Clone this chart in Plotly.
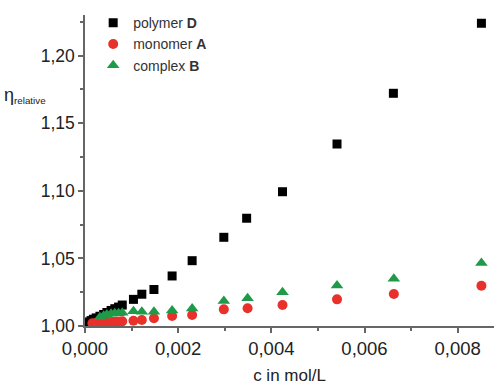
import plotly.graph_objects as go

# polymer D
c_D = [0.00003, 0.00008, 0.00013, 0.00018, 0.00024, 0.00032, 0.00040, 0.00047, 0.00056,
       0.00064, 0.00072, 0.00080, 0.00104, 0.00122, 0.00148, 0.00187, 0.00230, 0.00298,
       0.00347, 0.00424, 0.00541, 0.00662, 0.00851]
eta_D = [1.0020, 1.0030, 1.0040, 1.0050, 1.0060, 1.0072, 1.0085, 1.0100, 1.0115,
         1.0128, 1.0140, 1.0155, 1.0197, 1.0235, 1.0270, 1.0370, 1.0483, 1.0656,
         1.0797, 1.0993, 1.1346, 1.1721, 1.2239]

# monomer A
c_A = [0.00016, 0.00024, 0.00032, 0.00040, 0.00047, 0.00056, 0.00064, 0.00072, 0.00080,
       0.00104, 0.00122, 0.00148, 0.00187, 0.00230, 0.00298, 0.00349, 0.00424, 0.00541,
       0.00663, 0.00851]
eta_A = [1.0020, 1.0022, 1.0025, 1.0027, 1.0030, 1.0030, 1.0032, 1.0034, 1.0035,
         1.0039, 1.0044, 1.0057, 1.0074, 1.0081, 1.0123, 1.0131, 1.0155, 1.0197,
         1.0237, 1.0298]

# complex B
c_B = [0.00032, 0.00040, 0.00047, 0.00056, 0.00064, 0.00072, 0.00080, 0.00104, 0.00122,
       0.00148, 0.00187, 0.00230, 0.00298, 0.00349, 0.00424, 0.00541, 0.00663, 0.00851]
eta_B = [1.0065, 1.0075, 1.0085, 1.0090, 1.0095, 1.0095, 1.0098, 1.0110, 1.0106,
         1.0106, 1.0115, 1.0130, 1.0185, 1.0205, 1.0250, 1.0300, 1.0350, 1.0465]

x_ticks = [0.000, 0.002, 0.004, 0.006, 0.008]
y_ticks = [1.00, 1.05, 1.10, 1.15, 1.20]

FONT = "Liberation Sans, Arial, sans-serif"
AXIS_COLOR = "#666666"

fig = go.Figure()
fig.add_trace(go.Scatter(x=c_D, y=eta_D, mode="markers", name="polymer <b>D</b>",
                         marker=dict(symbol="square", size=9, color="#000000")))
fig.add_trace(go.Scatter(x=c_A, y=eta_A, mode="markers", name="monomer <b>A</b>",
                         marker=dict(symbol="circle", size=10, color="#e8312a")))
fig.add_trace(go.Scatter(x=c_B, y=eta_B, mode="markers", name="complex <b>B</b>",
                         marker=dict(symbol="triangle-up", size=11, color="#1e9a48")))

fig.update_layout(
    width=495, height=387,
    margin=dict(l=85, r=1, t=15, b=61),
    paper_bgcolor="white", plot_bgcolor="white",
    separators=",.",
    font=dict(family=FONT, color="#222222"),
    showlegend=True,
    legend=dict(x=0.02, y=1.025, xanchor="left", yanchor="top",
                bgcolor="rgba(0,0,0,0)", font=dict(size=14, color="#333333"),
                itemsizing="trace", tracegroupgap=0),
    xaxis=dict(range=[0, 0.00878], tickvals=x_ticks, tickformat=".3f",
               showgrid=False, zeroline=False, showline=True, linecolor=AXIS_COLOR, linewidth=1.5,
               ticks="outside", ticklen=5, tickcolor=AXIS_COLOR, tickwidth=1.5,
               tickfont=dict(size=18.5, color="#222222"),
               minor=dict(dtick=0.001, tick0=0, ticks="outside", ticklen=3, tickcolor=AXIS_COLOR, tickwidth=1.5),
               title=dict(text="c in mol/L", font=dict(size=17, color="#222222"), standoff=11)),
    yaxis=dict(range=[1.0, 1.23], tickvals=y_ticks, tickformat=".2f",
               showgrid=False, zeroline=False, showline=True, linecolor=AXIS_COLOR, linewidth=1.5,
               ticks="outside", ticklen=5, tickcolor=AXIS_COLOR, tickwidth=1.5,
               tickfont=dict(size=17.5, color="#222222"),
               minor=dict(dtick=0.025, tick0=1.0, ticks="outside", ticklen=3, tickcolor=AXIS_COLOR, tickwidth=1.5)),
)

fig.add_annotation(text="<span style='font-size:18px'>η</span><sub>relative</sub>",
                   xref="paper", yref="paper",
                   x=-0.203, y=0.74, xanchor="left", yanchor="middle", showarrow=False,
                   font=dict(size=14, color="#222222", family=FONT))

fig.write_html("out.html")
